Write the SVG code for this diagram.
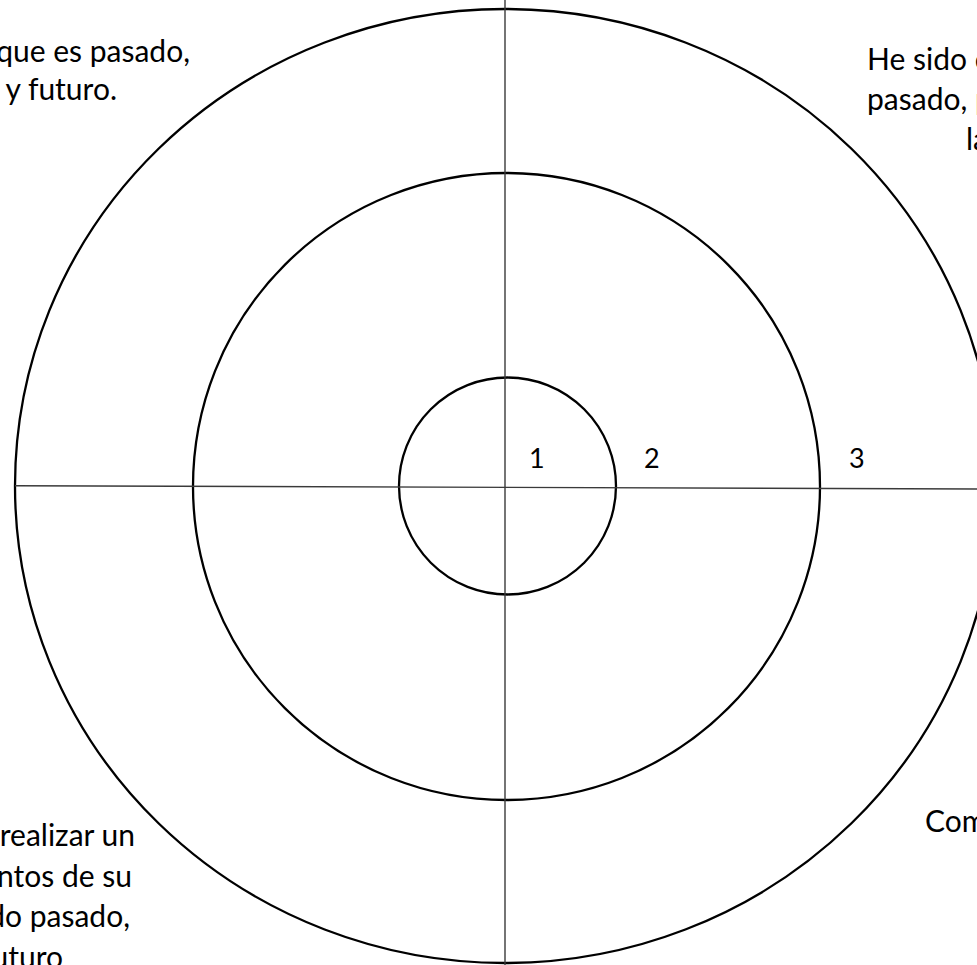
<svg xmlns="http://www.w3.org/2000/svg" width="977" height="965" viewBox="0 0 977 965">
<style>
.ring{fill:none;stroke:#000;stroke-width:2.3}
.axis{stroke:#3a3a3a;stroke-width:1.4}
.t{font-family:Lato,"Open Sans","Liberation Sans",sans-serif;font-size:30px;fill:#000}
.n{font-family:Lato,"Open Sans","Liberation Sans",sans-serif;font-size:27px;fill:#000}
</style>
<rect width="977" height="965" fill="#fff"/>
<g id="rings">
<ellipse id="ring-outer" class="ring" cx="505" cy="486" rx="490" ry="477"/>
<circle id="ring-middle" class="ring" cx="506.5" cy="486.5" r="313.5"/>
<circle id="ring-inner" class="ring" cx="507.5" cy="486" r="108.5"/>
</g>
<g id="axes">
<line class="axis" x1="505" y1="0" x2="505" y2="965"/>
<line class="axis" x1="15" y1="485.7" x2="977" y2="489"/>
</g>
<g id="numbers">
<text class="n" x="529" y="468">1</text>
<text class="n" x="644" y="468">2</text>
<text class="n" x="849" y="468">3</text>
</g>
<g id="text-top-left">
<text class="t" x="190" y="62" text-anchor="end">que es pasado,</text>
<text class="t" x="117" y="100" text-anchor="end">y futuro.</text>
</g>
<g id="text-top-right">
<text class="t" x="867" y="70">He sido c</text>
<text class="t" x="867" y="110">pasado, p</text>
<text class="t" x="966" y="150">la</text>
</g>
<g id="text-bottom-left">
<text class="t" x="135" y="846" text-anchor="end">realizar un</text>
<text class="t" x="132" y="887" text-anchor="end">ntos de su</text>
<text class="t" x="130" y="927" text-anchor="end">do pasado,</text>
<text class="t" x="63" y="968" text-anchor="end">uturo</text>
</g>
<g id="text-bottom-right">
<text class="t" x="925" y="832">Com</text>
</g>
</svg>
